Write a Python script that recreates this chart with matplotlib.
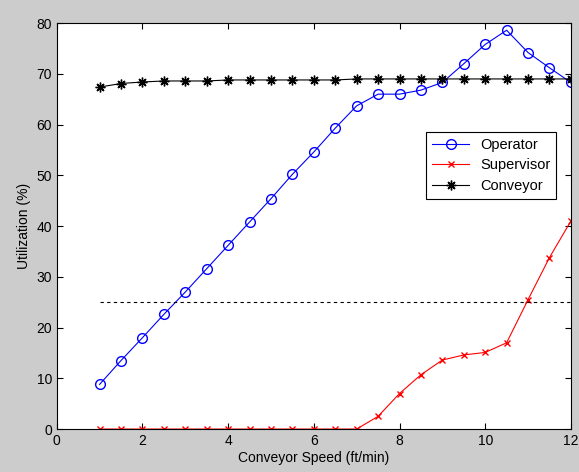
import matplotlib
matplotlib.use('Agg')
import matplotlib.pyplot as plt

plt.rcParams['font.family'] = ['Liberation Sans', 'DejaVu Sans']

# Conveyor speed (ft/min)
speed = [1, 1.5, 2, 2.5, 3, 3.5, 4, 4.5, 5, 5.5, 6, 6.5, 7, 7.5, 8, 8.5,
         9, 9.5, 10, 10.5, 11, 11.5, 12]

operator = [8.8, 13.5, 18.0, 22.6, 27.0, 31.6, 36.2, 40.8, 45.4, 50.2, 54.6,
            59.3, 63.7, 66.0, 66.0, 66.8, 68.3, 72.0, 75.8, 78.6, 74.2, 71.2, 68.3]

supervisor = [0, 0, 0, 0, 0, 0, 0, 0, 0, 0, 0, 0, 0, 2.5, 7.0, 10.7, 13.6,
              14.6, 15.1, 17.0, 25.5, 33.8, 41.0]

conveyor = [67.4, 68.1, 68.4, 68.6, 68.6, 68.6, 68.8, 68.8, 68.8, 68.8, 68.8,
            68.8, 69.0, 69.0, 69.0, 69.0, 69.0, 69.0, 69.0, 69.0, 69.0, 69.0, 69.0]

target = 25

fig = plt.figure(figsize=(5.79, 4.72), dpi=100, facecolor='#cccccc')
ax = fig.add_axes([0.098, 0.091, 0.888, 0.860])

ax.plot(speed, operator, color='#0000ff', marker='o', markersize=7,
        fillstyle='none', linewidth=0.8, label='Operator')
ax.plot(speed, supervisor, color='#ff0000', marker='x', markersize=5,
        linewidth=0.8, label='Supervisor')
ax.plot(speed, conveyor, color='black', marker=(8, 2, 0), markersize=7,
        markeredgewidth=1.0, linewidth=0.8, label='Conveyor')
ax.plot([speed[0], speed[-1]], [target, target], color='black',
        linestyle='--', linewidth=0.8, dashes=(3, 3))

ax.set_xlim(0, 12)
ax.set_ylim(0, 80)
ax.set_xticks(range(0, 13, 2))
ax.set_yticks(range(0, 81, 10))
ax.tick_params(direction='in', top=True, right=True, labelsize=10, length=4)
ax.set_xlabel('Conveyor Speed (ft/min)', fontsize=10, labelpad=2)
ax.set_ylabel('Utilization (%)', fontsize=10, labelpad=4)

leg = ax.legend(loc='upper right', bbox_to_anchor=(0.972, 0.732), fontsize=10.5,
                fancybox=False, framealpha=1, edgecolor='black',
                handlelength=2.5, borderpad=0.4, labelspacing=0.45,
                borderaxespad=0)
leg.get_frame().set_linewidth(0.8)

fig.savefig('out.png', dpi=100, facecolor=fig.get_facecolor())
